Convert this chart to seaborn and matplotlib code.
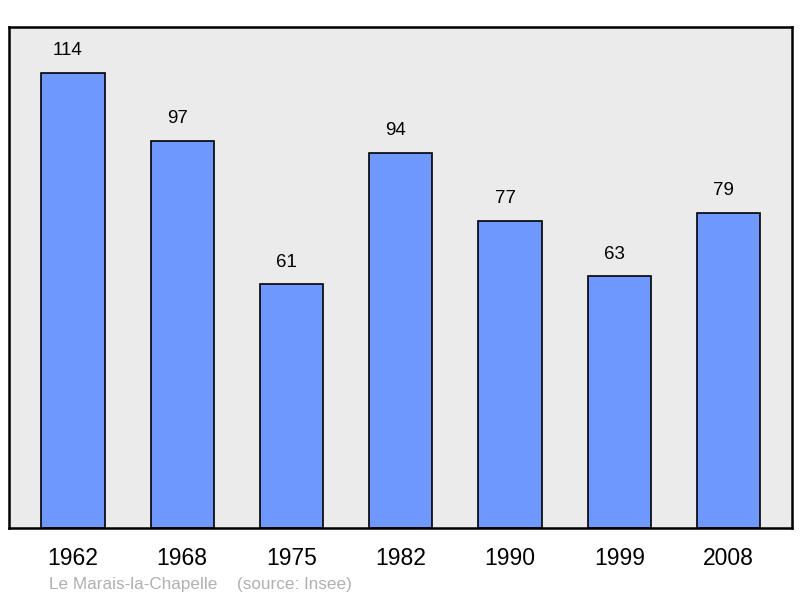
import matplotlib
matplotlib.use('Agg')
import matplotlib.pyplot as plt
import seaborn as sns
import pandas as pd

annees = ['1962', '1968', '1975', '1982', '1990', '1999', '2008']
population = [114, 97, 61, 94, 77, 63, 79]

df = pd.DataFrame({'annee': annees, 'pop': population})

sns.set_style('white')
plt.rcParams['font.family'] = ['Liberation Sans', 'DejaVu Sans']
plt.rcParams['text.color'] = 'black'
plt.rcParams['xtick.color'] = 'black'

fig = plt.figure(figsize=(8, 5.98), dpi=100)
ax = fig.add_axes([0.01125, 0.117, 0.97875, 0.838])
ax.set_facecolor('#ebebeb')

sns.barplot(data=df, x='annee', y='pop', order=annees, color='#7099ff', saturation=1,
            width=0.58, edgecolor='black', linewidth=1.2, ax=ax)

# etiquettes un peu decalees a gauche comme dans l'original
for barre, val in zip(ax.containers[0], population):
    ax.annotate(str(val), (barre.get_x() + barre.get_width() / 2, barre.get_height()),
                xytext=(-3.6, 10), textcoords='offset points', ha='center', va='bottom',
                fontsize=13.5, color='black')

ax.set_xlim(-0.585, 6.58)
ax.set_ylim(0, 125.5)
ax.set_xlabel('')
ax.set_ylabel('')
ax.set_yticks([])
ax.tick_params(axis='x', length=0, pad=14, labelsize=16.5, labelcolor='black')
for s in ax.spines.values():
    s.set_visible(True)
    s.set_color('black')
    s.set_linewidth(1.8)

fig.text(49 / 800, 1 - 584 / 598, 'Le Marais-la-Chapelle', color='#b0b0b0', fontsize=12.3, va='center')
fig.text(237 / 800, 1 - 584 / 598, '(source: Insee)', color='#b0b0b0', fontsize=12.3, va='center')

fig.savefig('out.png', dpi=100)
